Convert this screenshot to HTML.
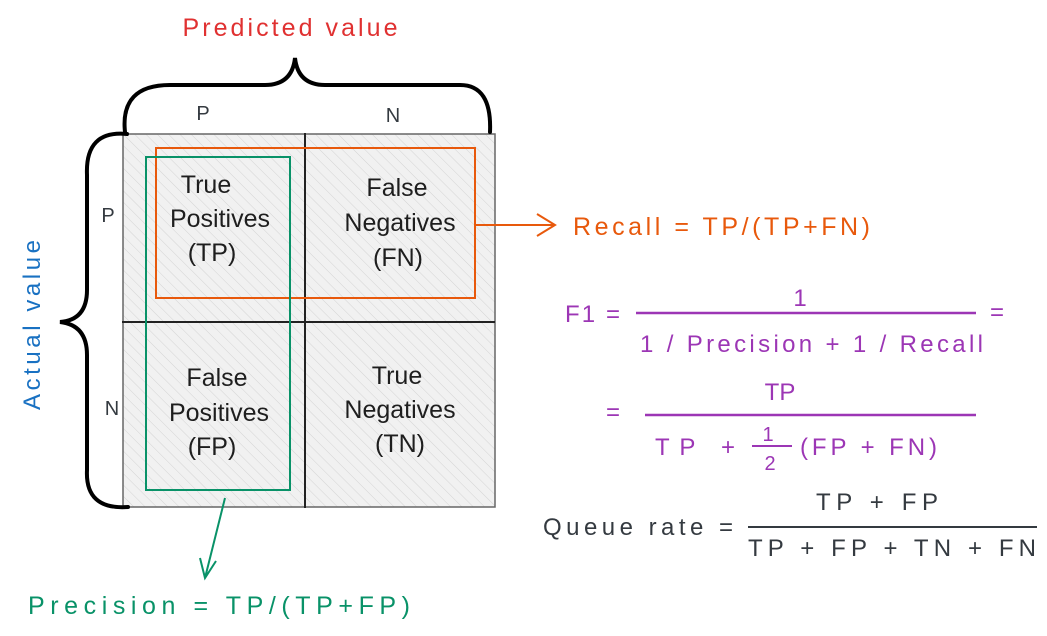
<!DOCTYPE html>
<html><head><meta charset="utf-8"><style>
html,body{margin:0;padding:0;background:#fff;}
svg{display:block;font-family:"Liberation Sans",sans-serif;}
</style></head><body>
<svg width="1047" height="636" viewBox="0 0 1047 636" xmlns="http://www.w3.org/2000/svg">
<defs>
<pattern id="h" width="8" height="8" patternUnits="userSpaceOnUse" patternTransform="rotate(-45)">
<rect width="8" height="8" fill="#f1f1f1"/>
<line x1="0" y1="0" x2="0" y2="8" stroke="#d4d4d4" stroke-width="1"/>
</pattern>
</defs>
<rect x="123" y="134" width="372" height="373" fill="url(#h)" stroke="#666" stroke-width="1.5"/>
<line x1="305" y1="133" x2="305" y2="508" stroke="#222" stroke-width="2"/>
<line x1="122" y1="322" x2="495" y2="322" stroke="#222" stroke-width="2"/>
<path d="M125 132 Q120 85 170 85 L265 85 Q292 85 295 58 Q298 85 325 85 L460 85 Q492 85 490 132" fill="none" stroke="#000" stroke-width="4" stroke-linecap="round"/>
<path d="M127 134 Q85 130 87 175 L87 290 Q87 320 60 322 Q87 325 87 355 L87 470 Q85 510 128 507" fill="none" stroke="#000" stroke-width="4" stroke-linecap="round"/>
<text x="290" y="36" fill="#e03131" font-size="25" text-anchor="middle" textLength="215">Predicted value</text>
<text x="203" y="120" fill="#343a40" font-size="20" text-anchor="middle">P</text>
<text x="393" y="122" fill="#343a40" font-size="20" text-anchor="middle">N</text>
<text x="108" y="222" fill="#343a40" font-size="20" text-anchor="middle">P</text>
<text x="112" y="415" fill="#343a40" font-size="20" text-anchor="middle">N</text>
<text transform="translate(40,325) rotate(-90)" fill="#1971c2" font-size="24" text-anchor="middle" textLength="170">Actual value</text>
<g fill="#1e1e1e" font-size="25" text-anchor="middle">
<text x="206" y="193">True</text><text x="220" y="227">Positives</text><text x="212" y="261">(TP)</text>
<text x="397" y="196">False</text><text x="400" y="231">Negatives</text><text x="398" y="266">(FN)</text>
<text x="217" y="386">False</text><text x="219" y="421">Positives</text><text x="212" y="455">(FP)</text>
<text x="397" y="384">True</text><text x="400" y="418">Negatives</text><text x="400" y="452">(TN)</text>
</g>
<rect x="156" y="148" width="319" height="150" fill="none" stroke="#e8590c" stroke-width="2"/>
<path d="M476 225 L555 225 M537 214 L555 225 L537 236" fill="none" stroke="#e8590c" stroke-width="2"/>
<text x="573" y="235" fill="#e8590c" font-size="25" textLength="297">Recall = TP/(TP+FN)</text>
<rect x="146" y="157" width="144" height="333" fill="none" stroke="#099268" stroke-width="2"/>
<path d="M225 498 L205 578 M200 558 L205 578 L216 561" fill="none" stroke="#099268" stroke-width="2"/>
<text x="28" y="614" fill="#099268" font-size="25" textLength="382">Precision = TP/(TP+FP)</text>
<g fill="#9c36b5" font-size="24">
<text x="565" y="322" textLength="55">F1 =</text>
<text x="800" y="306" text-anchor="middle">1</text>
<line x1="636" y1="313" x2="976" y2="313" stroke="#9c36b5" stroke-width="2.5"/>
<text x="640" y="352" textLength="343">1 / Precision + 1 / Recall</text>
<text x="990" y="320">=</text>
<text x="606" y="420">=</text>
<text x="780" y="400" text-anchor="middle">TP</text>
<line x1="645" y1="415" x2="976" y2="415" stroke="#9c36b5" stroke-width="2.5"/>
<text x="655" y="455" textLength="80">TP +</text>
<text x="768" y="441" text-anchor="middle" font-size="20">1</text>
<line x1="752" y1="446" x2="792" y2="446" stroke="#9c36b5" stroke-width="2"/>
<text x="770" y="470" text-anchor="middle" font-size="20">2</text>
<text x="800" y="455" textLength="137">(FP + FN)</text>
</g>
<g fill="#343a40" font-size="24">
<text x="543" y="535" textLength="190">Queue rate =</text>
<text x="877" y="510" text-anchor="middle" textLength="122">TP + FP</text>
<line x1="748" y1="527" x2="1037" y2="527" stroke="#343a40" stroke-width="2"/>
<text x="748" y="556" textLength="288">TP + FP + TN + FN</text>
</g>
</svg>
</body></html>
